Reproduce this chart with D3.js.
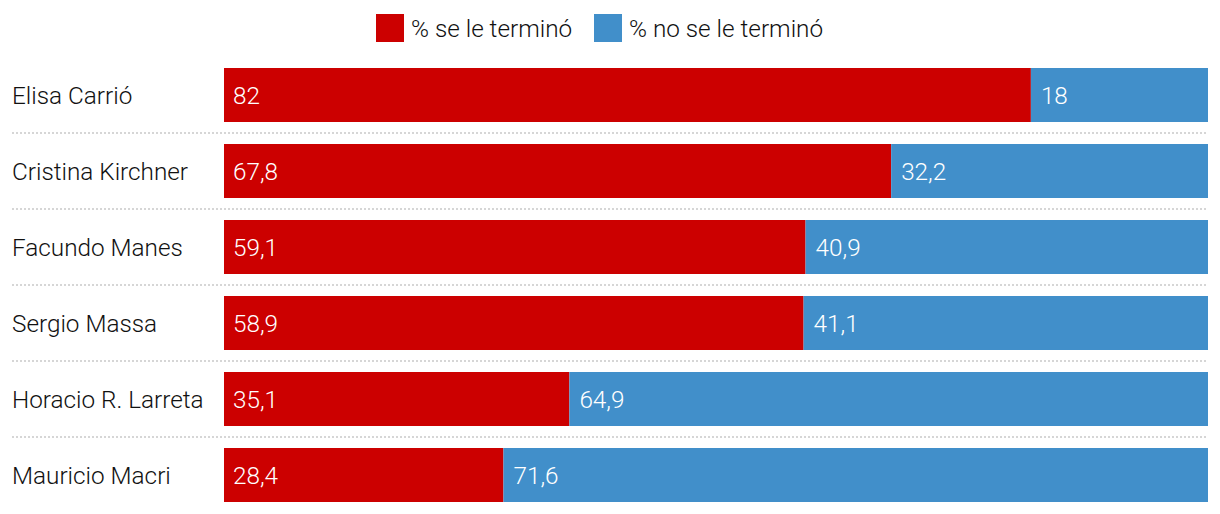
<!DOCTYPE html>
<html><head><meta charset="utf-8">
<script src="https://cdn.jsdelivr.net/npm/d3@7"></script>
<style>body{margin:0;background:#fff}text{font-family:Roboto,"Noto Sans",sans-serif;font-weight:300}</style>
</head><body><svg id="c" width="1220" height="514"></svg>
<script>
const categories = ["Elisa Carrió","Cristina Kirchner","Facundo Manes","Sergio Massa","Horacio R. Larreta","Mauricio Macri"];
const seTermino = [82, 67.8, 59.1, 58.9, 35.1, 28.4];
const noSeTermino = [18, 32.2, 40.9, 41.1, 64.9, 71.6];
const seriesNames = ["% se le terminó", "% no se le terminó"];
const colors = ["#cc0000", "#418fca"];

const svg = d3.select("#c");
const x = d3.scaleLinear().domain([0,100]).range([224,1208]);
const y = d3.scaleBand().domain(categories).range([68-11,502+11]).paddingInner(22/76).paddingOuter(11/76);
const fmt = v => String(v).replace(".", ",");

categories.slice(0,-1).forEach((c,i)=>{
  const yy = y(c)+y.bandwidth()+11;
  svg.append("line").attr("x1",12).attr("x2",1208).attr("y1",yy).attr("y2",yy)
    .attr("stroke","#d6d6d6").attr("stroke-width",2).attr("stroke-dasharray","2,2");
});

const fs = 24.3;
const rows = svg.selectAll("g.row").data(categories).join("g").attr("class","row");
rows.append("text").attr("x",12).attr("y",c=>y(c)+y.bandwidth()/2).attr("dy","0.35em")
  .attr("font-size",fs).attr("fill","#111").text(c=>c);
rows.append("rect").attr("x",x(0)).attr("y",c=>y(c)).attr("height",y.bandwidth())
  .attr("width",(c,i)=>x(seTermino[i])-x(0)).attr("fill",colors[0]);
rows.append("rect").attr("x",(c,i)=>x(seTermino[i])).attr("y",c=>y(c)).attr("height",y.bandwidth())
  .attr("width",(c,i)=>x(100)-x(seTermino[i])).attr("fill",colors[1]);
rows.append("text").attr("x",x(0)+9).attr("y",c=>y(c)+y.bandwidth()/2).attr("dy","0.35em")
  .attr("font-size",fs).attr("fill","#fff").text((c,i)=>fmt(seTermino[i]));
rows.append("text").attr("x",(c,i)=>x(seTermino[i])+10).attr("y",c=>y(c)+y.bandwidth()/2).attr("dy","0.35em")
  .attr("font-size",fs).attr("fill","#fff").text((c,i)=>fmt(noSeTermino[i]));

const lx = [376, 594];
seriesNames.forEach((n,i)=>{
  svg.append("rect").attr("x",lx[i]).attr("y",14).attr("width",28).attr("height",28).attr("fill",colors[i]);
  svg.append("text").attr("x",lx[i]+35).attr("y",28).attr("dy","0.35em").attr("font-size",fs).attr("fill","#111").text(n);
});
</script></body></html>
